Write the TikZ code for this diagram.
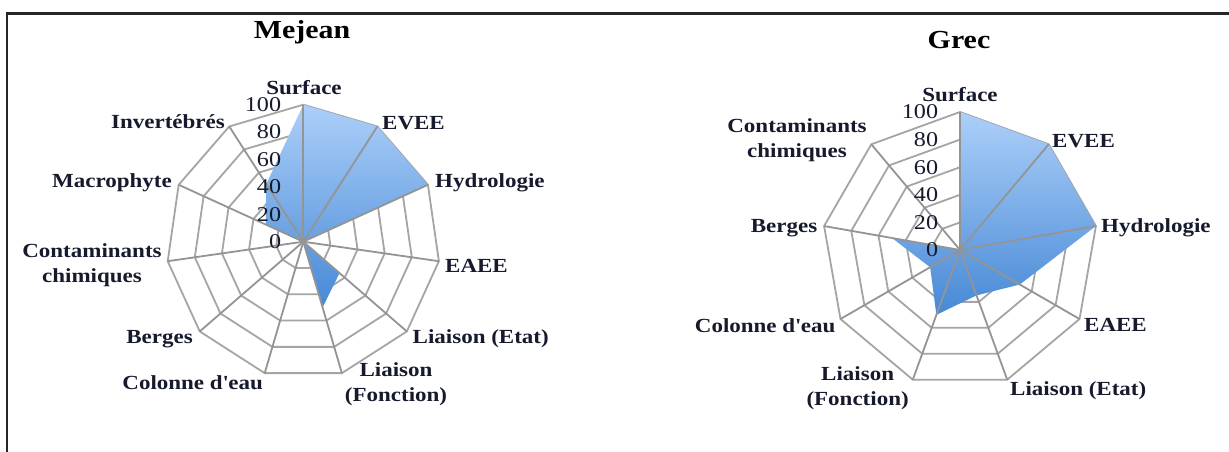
\documentclass[tikz,border=0pt]{standalone}
\usepackage{fontspec}
\setmainfont{Liberation Serif}[FakeStretch=1.15]
\definecolor{gridgray}{RGB}{165,165,165}
\definecolor{spokegray}{RGB}{148,148,148}
\definecolor{txt}{RGB}{22,26,44}
\definecolor{fillTop}{RGB}{172,207,249}
\definecolor{fillBot}{RGB}{70,137,214}
\tikzset{
  ring/.style={draw=gridgray, line width=1.8pt, line join=miter},
  spoke/.style={draw=spokegray, line width=1.8pt},
  cat/.style={font=\fontsize{20}{25}\selectfont\bfseries, text=txt, inner sep=0pt, align=center},
  tick/.style={font=\fontsize{21}{22}\selectfont, text=txt, inner sep=0pt, anchor=east},
  ttl/.style={font=\fontsize{26}{28}\selectfont\bfseries, text=black, inner sep=0pt},
  series/.style={top color=fillTop, bottom color=fillBot, draw=none},
  frameline/.style={line width=2.2pt, draw=black!85},
}
\begin{document}
\begin{tikzpicture}[x=1pt,y=-1pt]
\useasboundingbox (0,0) rectangle (1229,452);
\fill[white] (0,0) rectangle (1229,452);
\draw[frameline] (7,452) -- (7,13.5) -- (1229,13.5);

% ================= Mejean (11 axes) =================
\coordinate (LC) at (303.3,241.7);
\foreach \r in {27.4,54.8,82.2,109.6,137} {
  \draw[ring] ([shift={(90:\r pt)}]LC)
    \foreach \i in {1,...,10} { -- ([shift={({90-\i*360/11}:\r pt)}]LC) } -- cycle;
}
\shade[series] ([shift={(90:137pt)}]LC)
  \foreach \i/\v in {1/100,2/100,3/0,4/35,5/50,6/0,7/0,8/0,9/30,10/50}
  { -- ([shift={({90-\i*360/11}:{1.37pt*\v})}]LC) } -- cycle;
\foreach \i in {0,...,10} {
  \draw[spoke] (LC) -- ([shift={({90-\i*360/11}:137pt)}]LC) coordinate (LV\i);
}
\foreach \v [count=\k] in {0,20,40,60,80,100} {
  \node[tick] (LT\k) at (281.3,{241.7-1.37*\v}) {\v};
}
\node[ttl] (Ltitle) at (302,32) {Mejean};
\node[cat] (Ls) at (304,88) {Surface};
\node[cat, anchor=west] (Le) at (382,123) {EVEE};
\node[cat, anchor=west] (Lh) at (435,183) {Hydrologie};
\node[cat, anchor=west] (La) at (445,266) {EAEE};
\node[cat, anchor=west] (Lle) at (412.5,339) {Liaison (Etat)};
\node[cat] (Llf) at (396,384) {Liaison\\(Fonction)};
\node[cat, anchor=east] (Lc) at (263,383) {Colonne d\textquotesingle eau};
\node[cat, anchor=east] (Lb) at (193,339) {Berges};
\node[cat] (Lk) at (92,265) {Contaminants\\chimiques};
\node[cat, anchor=east] (Lm) at (172,183) {Macrophyte};
\node[cat, anchor=east] (Li) at (225,122) {Invertébrés};

% ================= Grec (9 axes) =================
\coordinate (RC) at (960,250);
\foreach \r in {27.6,55.2,82.8,110.4,138} {
  \draw[ring] ([shift={(90:\r pt)}]RC)
    \foreach \i in {1,...,8} { -- ([shift={({90-\i*40}:\r pt)}]RC) } -- cycle;
}
\shade[series] ([shift={(90:138pt)}]RC)
  \foreach \i/\v in {1/100,2/100,3/50,4/35,5/50,6/25,7/50,8/0}
  { -- ([shift={({90-\i*40}:{1.38pt*\v})}]RC) } -- cycle;
\foreach \i in {0,...,8} {
  \draw[spoke] (RC) -- ([shift={({90-\i*40}:138pt)}]RC) coordinate (RV\i);
}
\foreach \v [count=\k] in {0,20,40,60,80,100} {
  \node[tick] (RT\k) at (938.3,{250-1.38*\v}) {\v};
}
\node[ttl] (Rtitle) at (959,40) {Grec};
\node[cat] (Rs) at (960,95) {Surface};
\node[cat, anchor=west] (Re) at (1052,141) {EVEE};
\node[cat, anchor=west] (Rh) at (1101,228) {Hydrologie};
\node[cat, anchor=west] (Ra) at (1084,325) {EAEE};
\node[cat, anchor=west] (Rle) at (1010,391) {Liaison (Etat)};
\node[cat] (Rlf) at (857.6,388.6) {Liaison\\(Fonction)};
\node[cat, anchor=east] (Rc) at (835.5,326) {Colonne d\textquotesingle eau};
\node[cat, anchor=east] (Rb) at (817.4,228) {Berges};
\node[cat] (Rk) at (797,140.6) {Contaminants\\chimiques};
\end{tikzpicture}
\end{document}
